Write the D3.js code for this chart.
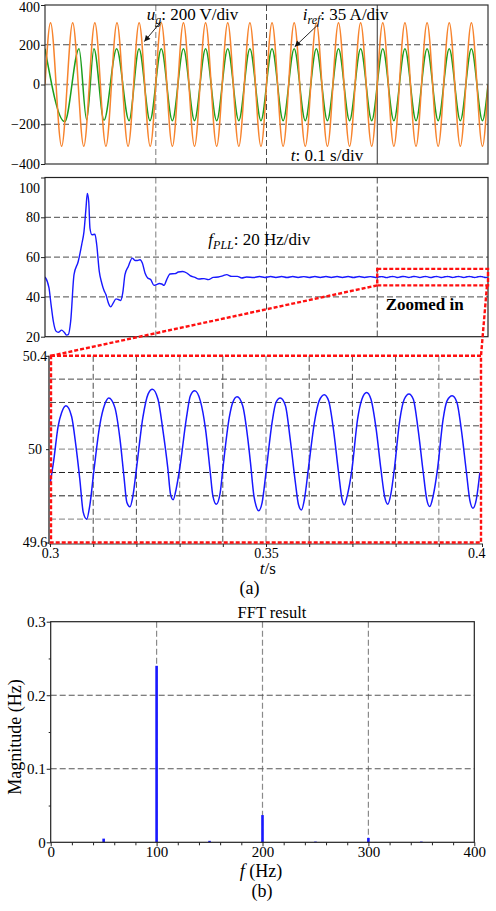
<!DOCTYPE html>
<html>
<head>
<meta charset="utf-8">
<script src="https://cdn.jsdelivr.net/npm/d3@7"></script>
<style>
  html, body { margin: 0; padding: 0; background: #fff; }
  svg { display: block; font-family: "Liberation Serif", "Times New Roman", serif; }
</style>
</head>
<body>
<svg id="fig" width="496" height="911"></svg>
<script>
// ---------------- data ----------------
// grid voltage u_g: extrema of the scope trace (time in s, plotted value)
const ugTimes = [0,
  0.005, 0.015, 0.025, 0.035, 0.045, 0.055, 0.065, 0.075, 0.085, 0.095,
  0.105, 0.115, 0.125, 0.135, 0.145, 0.155, 0.165, 0.175, 0.185, 0.195,
  0.205, 0.215, 0.225, 0.235, 0.245, 0.255, 0.265, 0.275, 0.285, 0.295,
  0.305, 0.315, 0.325, 0.335, 0.345, 0.355, 0.365, 0.375, 0.385, 0.395,
  0.4];
const ugValues = [0,
  311, -311, 311, -311, 311, -311, 311, -311, 311, -311,
  311, -311, 311, -311, 311, -311, 311, -311, 311, -311,
  311, -311, 311, -311, 311, -311, 311, -311, 311, -311,
  311, -311, 311, -311, 311, -311, 311, -311, 311, -311,
  0];

// current reference i_ref: extrema of the scope trace
const irefTimes = [0, 0.0178, 0.0307, 0.0376, 0.0442, 0.0533, 0.0647, 0.0759, 0.0849, 0.0948,
  0.105, 0.115, 0.125, 0.135, 0.145, 0.155, 0.165, 0.175, 0.185, 0.195,
  0.205, 0.215, 0.225, 0.235, 0.245, 0.255, 0.265, 0.275, 0.285, 0.295,
  0.305, 0.315, 0.325, 0.335, 0.345, 0.355, 0.365, 0.375, 0.385, 0.395,
  0.4];
const irefValues = [180, -187, 180, -178, 180, -180, 180, -182, 180, -182,
  180, -182, 180, -182, 180, -182, 180, -182, 180, -182,
  180, -182, 180, -182, 180, -182, 180, -182, 180, -182,
  180, -182, 180, -182, 180, -182, 180, -182, 180, -182,
  0];

// PLL frequency estimate f_PLL (time in s, Hz)
const fpllTimes = [
  0, 0.0036, 0.0055, 0.0075, 0.0099, 0.012, 0.015, 0.0174, 0.0196, 0.021, 0.0232, 0.0262,
  0.030, 0.0331, 0.0352, 0.037, 0.0382, 0.0395, 0.0406, 0.0424, 0.0451, 0.0467, 0.049,
  0.0512, 0.0533, 0.055, 0.0572, 0.0593, 0.0617, 0.0641, 0.0662, 0.0683, 0.0702, 0.0722,
  0.0752, 0.0788, 0.0813, 0.0834, 0.0858, 0.0879, 0.0903, 0.0927, 0.0954, 0.0984, 0.1008,
  0.1032, 0.1054, 0.1075, 0.1099, 0.1129, 0.1174, 0.1204, 0.1243, 0.128, 0.131, 0.1354,
  0.139, 0.1436, 0.1475, 0.152, 0.1565, 0.161, 0.164, 0.1686, 0.1737, 0.1776, 0.182,
  0.1885, 0.1937, 0.1985, 0.2037, 0.2085, 0.2137, 0.2185, 0.2237, 0.2285, 0.2337, 0.2385,
  0.2437, 0.2485, 0.2537, 0.2585, 0.2637, 0.2685, 0.2737, 0.2785, 0.2837, 0.2885, 0.2937, 0.2985,
  0.3000, 0.3008, 0.3019, 0.3027, 0.3037, 0.3050, 0.3060, 0.3069, 0.3077, 0.3085, 0.3092,
  0.3102, 0.3115, 0.3127, 0.3136, 0.3150, 0.3162, 0.3171, 0.3178, 0.3185, 0.3192, 0.3200,
  0.3215, 0.3227, 0.3237, 0.3250, 0.3261, 0.3273, 0.3279, 0.3285, 0.3292, 0.3300, 0.3316,
  0.3325, 0.3335, 0.3348, 0.3360, 0.3371, 0.3377, 0.3385, 0.3394, 0.3400, 0.3415, 0.3423,
  0.3433, 0.3446, 0.3458, 0.3464, 0.3472, 0.3477, 0.3483, 0.3491, 0.3500, 0.3514, 0.3523,
  0.3533, 0.3545, 0.3556, 0.3568, 0.3575, 0.3582, 0.3589, 0.3598, 0.3612, 0.3623, 0.3635,
  0.3645, 0.3656, 0.3668, 0.3676, 0.3681, 0.3688, 0.3699, 0.3712, 0.3722, 0.3733, 0.3743,
  0.3755, 0.3766, 0.3775, 0.3782, 0.3789, 0.3797, 0.3810, 0.3820, 0.3831, 0.3841, 0.3852,
  0.3864, 0.3872, 0.3879, 0.3887, 0.3897, 0.3910, 0.3919, 0.3931, 0.3942, 0.3952, 0.3964,
  0.3972, 0.3979, 0.3987, 0.3995];
const fpllHz = [
  50, 44.5, 36, 27.8, 22.8, 22.2, 23.3, 22.2, 20.8, 21, 27.8, 51.2,
  57.8, 66.2, 72.8, 84.5, 92, 87.8, 74.5, 71.2, 71.5, 66.2, 52.8,
  47, 43.2, 41.2, 37, 35, 37, 39, 38.7, 38.2, 42, 51.2,
  55.3, 59.5, 58.3, 58.3, 58.7, 57, 52, 49.5, 48.7, 45.8, 46.2,
  46.7, 46.5, 45.8, 48.7, 51.5, 51.7, 52.5, 52.8, 52, 50.7, 49.8,
  49, 49.2, 48.7, 49.8, 50, 50.7, 51.2, 50.3, 50.3, 49.5, 50,
  49.76, 50.22, 49.75, 50.24, 49.77, 50.22, 49.74, 50.23, 49.76, 50.21, 49.75,
  50.24, 49.77, 50.22, 49.75, 50.23, 49.76, 50.22, 49.74, 50.23, 49.76, 50.21, 49.75,
  49.85, 49.943, 50.1, 50.157, 50.186, 50.14, 50.014, 49.871, 49.729, 49.7, 49.757,
  49.914, 50.1, 50.193, 50.219, 50.179, 50.043, 49.886, 49.771, 49.753, 49.8, 49.914,
  50.136, 50.236, 50.257, 50.214, 50.086, 49.914, 49.807, 49.783, 49.829, 49.914, 50.136,
  50.229, 50.25, 50.207, 50.086, 49.9, 49.8, 49.764, 49.814, 49.914, 50.136, 50.2,
  50.224, 50.186, 50.043, 49.943, 49.8, 49.757, 49.736, 49.771, 49.9, 50.114, 50.2,
  50.219, 50.186, 50.043, 49.857, 49.764, 49.739, 49.786, 49.914, 50.114, 50.207, 50.233,
  50.207, 50.086, 49.9, 49.786, 49.761, 49.8, 49.914, 50.129, 50.214, 50.243, 50.214,
  50.086, 49.914, 49.793, 49.764, 49.807, 49.914, 50.129, 50.214, 50.236, 50.214, 50.086,
  49.9, 49.786, 49.754, 49.8, 49.914, 50.129, 50.207, 50.229, 50.2, 50.086, 49.9,
  49.779, 49.747, 49.786, 49.9];

// FFT of f_PLL in steady state
const fftFreqs = [50, 100, 150, 200, 250, 300, 350];
const fftMags  = [0.005, 0.24, 0.002, 0.037, 0.001, 0.006, 0.001];

// tick values
const waveTicks  = [-400, -200, 0, 200, 400];
const freqTicks  = [20, 40, 60, 80, 100];
const timeGrid   = [0.1, 0.2, 0.3];
const zoomTicksY = [49.6, 50, 50.4];
const zoomTicksX = [0.3, 0.35, 0.4];
const zoomGridT  = [0.31, 0.32, 0.33, 0.34, 0.35, 0.36, 0.37, 0.38, 0.39];
const zoomGridHz = [49.7, 49.8, 49.9, 50, 50.1, 50.2, 50.3];
const magTicks   = [0, 0.1, 0.2, 0.3];
const magMinor   = [0.05, 0.15, 0.25];
const fftTicks   = [0, 100, 200, 300, 400];
const fftMinor   = [20, 40, 60, 80, 120, 140, 160, 180, 220, 240, 260, 280, 320, 340, 360, 380];

// ---------------- drawing ----------------
const FONT = '"Liberation Serif", "Times New Roman", serif';
const svg = d3.select("#fig");
const ORANGE = "#f7842e", GREEN = "#1c9e1c", BLUE = "#1818ff", RED = "#ff1010";
const DARK = "#4a4a4a", GRAY = "#9a9a9a";
const fmt = d3.format("~g");

const defs = svg.append("defs");
defs.append("marker").attr("id", "arrowHead")
  .attr("viewBox", "0 0 10 10").attr("refX", 10).attr("refY", 5)
  .attr("markerWidth", 8).attr("markerHeight", 6).attr("markerUnits", "userSpaceOnUse")
  .attr("orient", "auto")
  .append("path").attr("d", "M0,0 L10,5 L0,10 z").attr("fill", "#111");

function clip(id, x0, y0, x1, y1) {
  defs.append("clipPath").attr("id", id).append("rect")
    .attr("x", x0).attr("y", y0).attr("width", x1 - x0).attr("height", y1 - y0);
  return "url(#" + id + ")";
}
function seg(g, x1, y1, x2, y2, color, width, dash) {
  return g.append("line").attr("x1", x1).attr("y1", y1).attr("x2", x2).attr("y2", y2)
    .attr("stroke", color).attr("stroke-width", width)
    .attr("stroke-dasharray", dash || null);
}
function styleAxis(g, size) {
  g.attr("font-family", FONT);
  g.select(".domain").remove();
  g.selectAll(".tick text").attr("font-size", size).attr("fill", "#000");
  g.selectAll(".tick line").attr("stroke", "#222");
}
const zip = (a, b) => a.map((v, i) => [v, b[i]]);

// ===== panel 1: u_g and i_ref =====
const xT = d3.scaleLinear().domain([0, 0.4]).range([45, 488]);
const yW = d3.scaleLinear().domain([-400, 400]).range([164, 5]);
const p1 = svg.append("g");

seg(p1, xT(0), yW(200), xT(0.4), yW(200), DARK, 1, "6,3");
seg(p1, xT(0), yW(0), xT(0.4), yW(0), GRAY, 1.3, "6,3");
seg(p1, xT(0), yW(-200), xT(0.4), yW(-200), DARK, 1, "6,3");
seg(p1, xT(timeGrid[0]), yW(400), xT(timeGrid[0]), yW(-400), GRAY, 1.3, "6,3");
seg(p1, xT(timeGrid[1]), yW(400), xT(timeGrid[1]), yW(-400), DARK, 1, "6,3");
seg(p1, xT(timeGrid[2]), yW(400), xT(timeGrid[2]), yW(-400), "#333", 1);

const waveLine = d3.line().x(d => xT(d[0])).y(d => yW(d[1])).curve(d3.curveMonotoneX);
const c1 = clip("c1", xT(0), yW(400), xT(0.4), yW(-400));
p1.append("path").datum(zip(irefTimes, irefValues)).attr("d", waveLine)
  .attr("fill", "none").attr("stroke", GREEN).attr("stroke-width", 1.5).attr("clip-path", c1);
p1.append("path").datum(zip(ugTimes, ugValues)).attr("d", waveLine)
  .attr("fill", "none").attr("stroke", ORANGE).attr("stroke-width", 1.5).attr("clip-path", c1);

p1.append("rect").attr("x", xT(0)).attr("y", yW(400)).attr("width", xT(0.4) - xT(0))
  .attr("height", yW(-400) - yW(400)).attr("fill", "none").attr("stroke", "#333").attr("stroke-width", 1.2);

p1.append("g").attr("transform", `translate(${xT(0)},0)`)
  .call(d3.axisLeft(yW).tickValues(waveTicks).tickSize(4).tickPadding(1))
  .call(g => styleAxis(g, 14))
  .call(g => g.selectAll(".tick text").filter(d => d === 400).attr("dy", "0.45em"));

// annotations
const ann1 = p1.append("g").attr("font-family", FONT).attr("font-size", 17).attr("fill", "#000");
const ug = ann1.append("text").attr("x", xT(0.0918)).attr("y", yW(324));
ug.append("tspan").attr("font-style", "italic").text("u");
ug.append("tspan").attr("font-style", "italic").attr("font-size", 12).attr("dy", 4).text("g");
ug.append("tspan").attr("dy", -4).text(": 200 V/div");
const ir = ann1.append("text").attr("x", xT(0.2327)).attr("y", yW(324));
ir.append("tspan").attr("font-style", "italic").text("i");
ir.append("tspan").attr("font-style", "italic").attr("font-size", 12).attr("dy", 4).text("ref");
ir.append("tspan").attr("dy", -4).text(": 35 A/div");
const tt = ann1.append("text").attr("x", xT(0.222)).attr("y", yW(-383));
tt.append("tspan").attr("font-style", "italic").text("t");
tt.append("tspan").text(": 0.1 s/div");

seg(ann1, xT(0.1047), yW(316), xT(0.0897), yW(216), "#111", 0.9).attr("marker-end", "url(#arrowHead)");
seg(ann1, xT(0.2465), yW(301), xT(0.2255), yW(190), "#111", 0.9).attr("marker-end", "url(#arrowHead)");

// ===== panel 2: f_PLL =====
const yF = d3.scaleLinear().domain([20, 100]).range([336.7, 177.5]);
const p2 = svg.append("g");
[80, 60, 40].forEach(v => seg(p2, xT(0), yF(v), xT(0.4), yF(v), DARK, 1, "6,3"));
seg(p2, xT(timeGrid[0]), yF(100), xT(timeGrid[0]), yF(20), GRAY, 1.3, "6,3");
seg(p2, xT(timeGrid[1]), yF(100), xT(timeGrid[1]), yF(20), DARK, 1, "6,3");
seg(p2, xT(timeGrid[2]), yF(100), xT(timeGrid[2]), yF(20), DARK, 1, "6,3");

const fpll = zip(fpllTimes, fpllHz);
const c2 = clip("c2", xT(0), yF(100), xT(0.4), yF(20));
p2.append("path").datum(fpll)
  .attr("d", d3.line().x(d => xT(d[0])).y(d => yF(d[1])).curve(d3.curveMonotoneX))
  .attr("fill", "none").attr("stroke", BLUE).attr("stroke-width", 1.4).attr("clip-path", c2);

p2.append("rect").attr("x", xT(0)).attr("y", yF(100)).attr("width", xT(0.4) - xT(0))
  .attr("height", yF(20) - yF(100)).attr("fill", "none").attr("stroke", "#222").attr("stroke-width", 1.2);

p2.append("g").attr("transform", `translate(${xT(0)},0)`)
  .call(d3.axisLeft(yF).tickValues(freqTicks).tickSize(4).tickPadding(1))
  .call(g => styleAxis(g, 14))
  .call(g => g.selectAll(".tick text").filter(d => d === 100).attr("dy", "1.05em"));

const fl = p2.append("text").attr("font-family", FONT).attr("font-size", 17)
  .attr("x", xT(0.1475)).attr("y", yF(66));
fl.append("tspan").attr("font-style", "italic").text("f");
fl.append("tspan").attr("font-style", "italic").attr("font-size", 12).attr("dy", 4).text("PLL");
fl.append("tspan").attr("dy", -4).text(": 20 Hz/div");

// highlighted window and its magnified view
const boxHz = [45.8, 54.1];
p2.append("rect").attr("x", xT(0.3)).attr("y", yF(boxHz[1]))
  .attr("width", xT(0.4) - xT(0.3)).attr("height", yF(boxHz[0]) - yF(boxHz[1]))
  .attr("fill", "none").attr("stroke", RED).attr("stroke-width", 2.4).attr("stroke-dasharray", "4,2");
p2.append("text").attr("font-family", FONT).attr("font-size", 17).attr("font-weight", "bold")
  .attr("x", xT(0.3077)).attr("y", yF(33.3)).text("Zoomed in");

// ===== panel 3: magnified f_PLL =====
const xZ = d3.scaleLinear().domain([0.3, 0.4]).range([50, 482]);
const yZ = d3.scaleLinear().domain([49.6, 50.4]).range([542.5, 355.8]);
const p3 = svg.append("g");

const lightT = new Set([0.33, 0.35, 0.39]);
zoomGridT.forEach(t => seg(p3, xZ(t), yZ(50.4), xZ(t), yZ(49.6),
  lightT.has(t) ? GRAY : DARK, lightT.has(t) ? 1.3 : 1, "6,3"));
const lightHz = new Set([50, 49.7]);
zoomGridHz.forEach(v => seg(p3, xZ(0.3), yZ(v), xZ(0.4), yZ(v),
  lightHz.has(v) ? GRAY : (v < 50 ? "#222" : DARK), lightHz.has(v) ? 1.3 : 1, "6,3"));

const c3 = clip("c3", xZ(0.3), yZ(50.4), xZ(0.4), yZ(49.6));
p3.append("path").datum(fpll.filter(d => d[0] >= 0.3))
  .attr("d", d3.line().x(d => xZ(d[0])).y(d => yZ(d[1])).curve(d3.curveMonotoneX))
  .attr("fill", "none").attr("stroke", BLUE).attr("stroke-width", 1.5).attr("clip-path", c3);

// axis lines
seg(p3, xZ(0.3) - 1, yZ(50.4), xZ(0.3) - 1, yZ(49.6) + 1.5, "#222", 1.3);
seg(p3, xZ(0.3) - 1, yZ(49.6) + 1.5, xZ(0.4) + 1, yZ(49.6) + 1.5, "#777", 1.5);

p3.append("g").attr("transform", `translate(${xZ(0.3) - 1},0)`)
  .call(d3.axisLeft(yZ).tickValues(zoomTicksY).tickSize(3).tickPadding(1).tickFormat(fmt))
  .call(g => styleAxis(g, 14))
  .call(g => g.selectAll(".tick text").attr("text-anchor", "middle").attr("x", -14));

// minor ticks at every grid line, labelled ticks at 0.3 / 0.35 / 0.4
p3.append("g").attr("transform", `translate(0,${yZ(49.6) + 1.5})`)
  .call(d3.axisBottom(xZ).tickValues(zoomGridT).tickSize(3).tickFormat(""))
  .call(g => styleAxis(g, 14));
p3.append("g").attr("transform", `translate(0,${yZ(49.6) + 1.5})`)
  .call(d3.axisBottom(xZ).tickValues(zoomTicksX).tickSize(3).tickPadding(1).tickFormat(fmt))
  .call(g => styleAxis(g, 14))
  .call(g => g.selectAll(".tick text").filter(d => d === 0.4).attr("text-anchor", "end").attr("x", 3));

const ts = p3.append("text").attr("font-family", FONT).attr("font-size", 17)
  .attr("text-anchor", "middle").attr("x", xZ(0.3504)).attr("y", 574);
ts.append("tspan").attr("font-style", "italic").text("t");
ts.append("tspan").text("/s");

// red frame around the magnified view, linked to the window above
p3.append("rect").attr("x", xZ(0.3) + 1).attr("y", yZ(50.4))
  .attr("width", xZ(0.4) - xZ(0.3) - 2).attr("height", yZ(49.6) - yZ(50.4))
  .attr("fill", "none").attr("stroke", RED).attr("stroke-width", 2.4).attr("stroke-dasharray", "4,2");
seg(p3, xT(0.3), yF(boxHz[0]), xZ(0.3) + 1, yZ(50.4), RED, 2.4, "4,2");
seg(p3, xT(0.4) - 1, yF(boxHz[0]), xZ(0.4) - 1, yZ(50.4), RED, 2.4, "4,2");

svg.append("text").attr("font-family", FONT).attr("font-size", 18).attr("text-anchor", "middle")
  .attr("x", 249.5).attr("y", 594).text("(a)");

// ===== panel 4: FFT of f_PLL =====
const xFq = d3.scaleLinear().domain([0, 400]).range([50.7, 474.3]);
const yMag = d3.scaleLinear().domain([0, 0.3]).range([842.3, 621.7]);
const p4 = svg.append("g");

[100, 200, 300].forEach(f => seg(p4, xFq(f), yMag(0.3), xFq(f), yMag(0), "#8a8a8a", 1.2, "6,3"));
[0.1, 0.2].forEach(m => seg(p4, xFq(0), yMag(m), xFq(400), yMag(m), "#555", 1.1, "6,3"));

const barW = 2.6;
p4.selectAll("rect.bar").data(zip(fftFreqs, fftMags)).join("rect").attr("class", "bar")
  .attr("x", d => xFq(d[0]) - barW / 2).attr("width", barW)
  .attr("y", d => yMag(d[1])).attr("height", d => yMag(0) - yMag(d[1]))
  .attr("fill", BLUE);

p4.append("rect").attr("x", xFq(0)).attr("y", yMag(0.3)).attr("width", xFq(400) - xFq(0))
  .attr("height", yMag(0) - yMag(0.3)).attr("fill", "none").attr("stroke", "#222").attr("stroke-width", 1.2);

p4.append("g").attr("transform", `translate(${xFq(0)},0)`)
  .call(d3.axisLeft(yMag).tickValues(magTicks).tickSize(4).tickPadding(1).tickFormat(fmt))
  .call(g => styleAxis(g, 15));
p4.append("g").attr("transform", `translate(${xFq(0)},0)`)
  .call(d3.axisLeft(yMag).tickValues(magMinor).tickSize(2).tickFormat(""))
  .call(g => styleAxis(g, 15));
p4.append("g").attr("transform", `translate(0,${yMag(0)})`)
  .call(d3.axisBottom(xFq).tickValues(fftTicks).tickSize(4).tickPadding(0))
  .call(g => styleAxis(g, 15));
p4.append("g").attr("transform", `translate(0,${yMag(0)})`)
  .call(d3.axisBottom(xFq).tickValues(fftMinor).tickSize(3).tickFormat(""))
  .call(g => styleAxis(g, 15));

p4.append("text").attr("font-family", FONT).attr("font-size", 16.5).attr("text-anchor", "middle")
  .attr("x", 272).attr("y", 618).text("FFT result");
p4.append("text").attr("font-family", FONT).attr("font-size", 18).attr("text-anchor", "middle")
  .attr("transform", `translate(21,${(yMag(0) + yMag(0.3)) / 2 + 5}) rotate(-90)`).text("Magnitude (Hz)");
const fx = p4.append("text").attr("font-family", FONT).attr("font-size", 18).attr("text-anchor", "middle")
  .attr("x", 261).attr("y", 877);
fx.append("tspan").attr("font-style", "italic").text("f");
fx.append("tspan").text(" (Hz)");
svg.append("text").attr("font-family", FONT).attr("font-size", 18).attr("text-anchor", "middle")
  .attr("x", 262).attr("y", 897).text("(b)");
</script>
</body>
</html>
